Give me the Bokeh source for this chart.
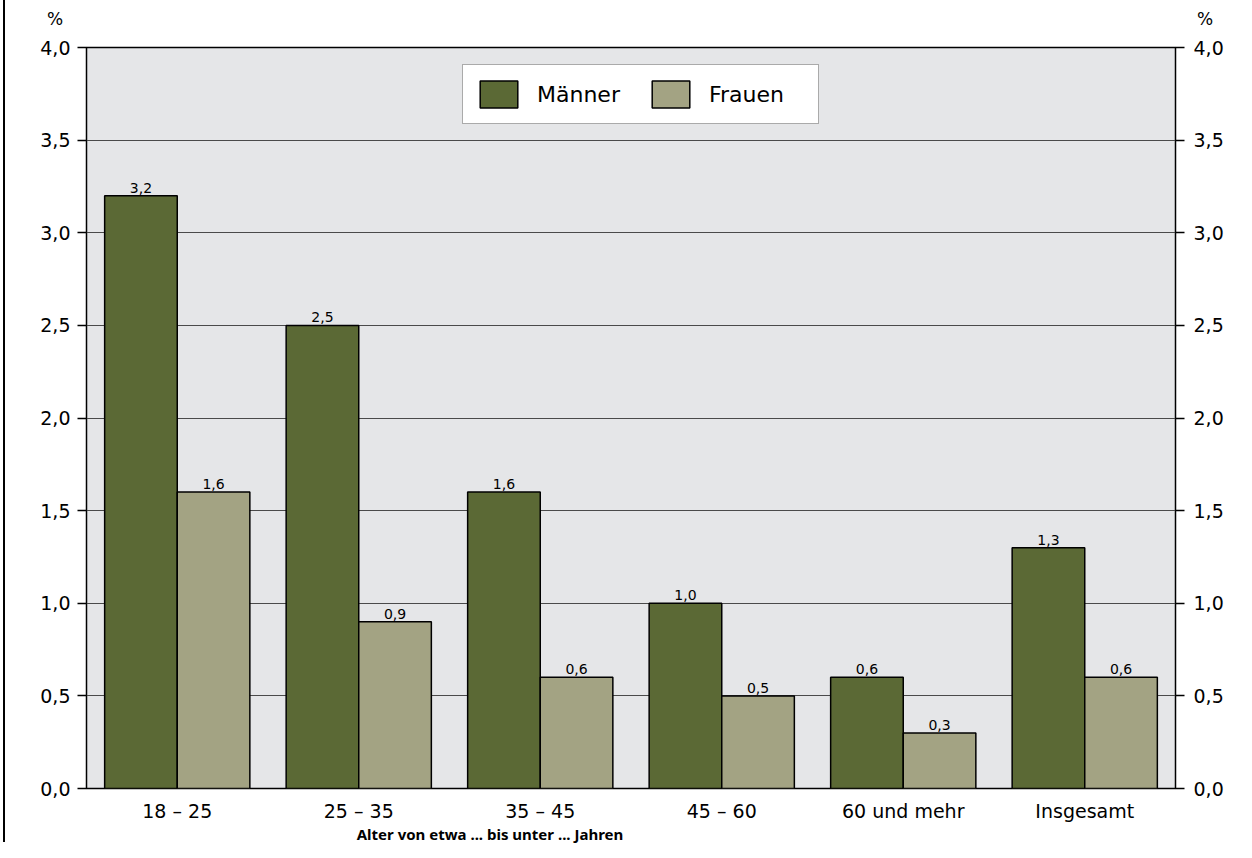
from bokeh.plotting import figure
from bokeh.models import (FactorRange, LinearAxis, CustomJSTickFormatter, FixedTicker,
                          Legend, LegendItem, ColumnDataSource, Div)
from bokeh.layouts import column
from bokeh.transform import dodge
from bokeh.core.properties import value
from bokeh.embed import file_html
from bokeh.resources import INLINE

categories = ["18 – 25", "25 – 35", "35 – 45", "45 – 60", "60 und mehr", "Insgesamt"]
maenner = [3.2, 2.5, 1.6, 1.0, 0.6, 1.3]
frauen = [1.6, 0.9, 0.6, 0.5, 0.3, 0.6]
y_ticks = [0.0, 0.5, 1.0, 1.5, 2.0, 2.5, 3.0, 3.5, 4.0]
series_names = ["Männer", "Frauen"]
x_label = "Alter von etwa ... bis unter ... Jahren"
unit_label = "%"

FONT = "DejaVu Sans"
C_M = "#5b6935"
C_F = "#a3a383"
W = 1231

def fmt(v):
    return f"{v:.1f}".replace(".", ",")

src = ColumnDataSource(dict(
    cat=categories, m=maenner, f=frauen,
    ml=[fmt(v) for v in maenner], fl=[fmt(v) for v in frauen],
))

p = figure(x_range=FactorRange(*categories), y_range=(0, 4.0),
           width=W, height=794, output_backend="svg", toolbar_location=None,
           min_border_left=81, min_border_right=61, min_border_top=17, min_border_bottom=36)

p.background_fill_color = "#e5e6e8"
p.border_fill_color = "white"
p.outline_line_color = "black"
p.outline_line_width = 1.5

rm = p.vbar(x=dodge("cat", -0.2, range=p.x_range), top="m", width=0.4, source=src,
            fill_color=C_M, line_color="black", line_width=1.5)
rf = p.vbar(x=dodge("cat", 0.2, range=p.x_range), top="f", width=0.4, source=src,
            fill_color=C_F, line_color="black", line_width=1.5)

for col, lab, off in (("m", "ml", -0.2), ("f", "fl", 0.2)):
    p.text(x=dodge("cat", off, range=p.x_range), y=col, text=lab, source=src,
           text_align="center", text_baseline="bottom", y_offset=-3,
           text_font=value(FONT), text_font_size="14px", text_color="black")

ticker = FixedTicker(ticks=y_ticks)
formatter = CustomJSTickFormatter(code="return tick.toFixed(1).replace('.', ',');")

p.yaxis.ticker = ticker
p.yaxis.formatter = formatter

right = LinearAxis(ticker=FixedTicker(ticks=y_ticks), formatter=formatter)
p.add_layout(right, "right")

for ax in p.yaxis:
    ax.axis_line_color = None
    ax.major_tick_in = 0
    ax.major_tick_out = 9
    ax.major_tick_line_color = "black"
    ax.major_tick_line_width = 1.5
    ax.minor_tick_line_color = None
    ax.major_label_text_font = FONT
    ax.major_label_text_font_size = "19px"
    ax.major_label_text_color = "black"
    ax.major_label_standoff = 7
right.major_label_standoff = 9

p.xaxis.axis_line_color = None
p.xaxis.major_tick_line_color = None
p.xaxis.major_label_text_font = FONT
p.xaxis.major_label_text_font_size = "19px"
p.xaxis.major_label_text_color = "black"
p.xaxis.major_label_standoff = 5

p.xgrid.grid_line_color = None
p.ygrid.ticker = ticker
p.ygrid.grid_line_color = "#4a4a4a"
p.ygrid.grid_line_width = 1.2

legend = Legend(items=[LegendItem(label=series_names[0], renderers=[rm]),
                       LegendItem(label=series_names[1], renderers=[rf])],
                orientation="horizontal", location=(376, 664),
                glyph_width=47, glyph_height=34, label_standoff=15, spacing=13,
                padding=12, margin=0, label_width=97,
                label_text_font=FONT, label_text_font_size="22px", label_text_color="black",
                border_line_color="#555555", border_line_width=1.5,
                background_fill_color="white", background_fill_alpha=1.0)
p.add_layout(legend, "center")

top_html = (
    f'<div style="position:relative;width:{W}px;height:30px;font-family:\'{FONT}\';'
    f'font-size:17px;line-height:17px;color:black;">'
    f'<span style="position:absolute;left:42px;top:11px;">{unit_label}</span>'
    f'<span style="position:absolute;left:1192px;top:11px;">{unit_label}</span>'
    f'</div>'
)
bottom_html = (
    f'<div style="position:relative;width:{W}px;height:18px;font-family:\'Noto Sans\';'
    f'font-size:15px;line-height:16px;font-weight:bold;color:black;">'
    f'<span style="position:absolute;left:485px;top:2px;transform:translateX(-50%);'
    f'white-space:nowrap;">{x_label}</span>'
    f'</div>'
)
top_div = Div(text=top_html, width=W, height=30, margin=0)
bottom_div = Div(text=bottom_html, width=W, height=18, margin=0)

layout = column(top_div, p, bottom_div, spacing=0)
layout.styles = {"border-left": "2px solid black", "margin-left": "3px"}

open("out.html", "w").write(file_html(layout, INLINE))
